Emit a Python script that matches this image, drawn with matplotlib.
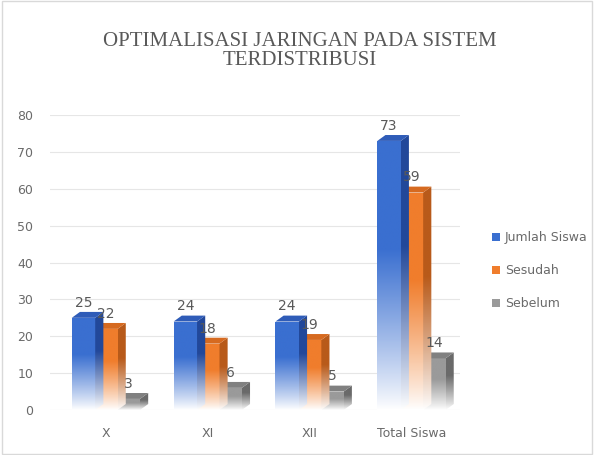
import numpy as np
import matplotlib
matplotlib.use('Agg')
import matplotlib.pyplot as plt
from matplotlib.colors import LinearSegmentedColormap
from matplotlib.patches import Polygon, Patch

categories = ['X', 'XI', 'XII', 'Total Siswa']
series_names = ['Jumlah Siswa', 'Sesudah', 'Sebelum']
jumlah_siswa = [25, 24, 24, 73]
sesudah = [22, 18, 19, 59]
sebelum = [3, 6, 5, 14]
yticks = [0, 10, 20, 30, 40, 50, 60, 70, 80]

front_colors = ['#3a6fd0', '#f07d2c', '#9a9a9a']
side_colors = ['#22489a', '#b85a1a', '#6a6a6a']
top_colors = ['#2f5cb8', '#d66a20', '#808080']


def gradient_fill(ax, patch, color, extent, zorder):
    cmap = LinearSegmentedColormap.from_list('g', ['#ffffff', color])
    t = np.linspace(0, 1, 200)
    vals = np.clip(t / 0.6, 0, 1) ** 0.9
    img = ax.imshow(vals[:, None], extent=extent, origin='lower', aspect='auto',
                    cmap=cmap, vmin=0, vmax=1, zorder=zorder, interpolation='bilinear')
    img.set_clip_path(patch)


def plot_chart():
    fig = plt.figure(figsize=(5.94, 4.55), dpi=100)
    ax = fig.add_axes([0.084, 0.099, 0.691, 0.648])

    data = [jumlah_siswa, sesudah, sebelum]
    x = np.arange(len(categories))
    width = 0.23
    offsets = [-0.22, 0.0, 0.22]
    dx, dy = 0.08, 1.6

    # draw back series first so blue ends up in front
    for i in [2, 1, 0]:
        z = 10 - i * 3
        bars = ax.bar(x + offsets[i], data[i], width, color='none', zorder=z)
        for rect, h in zip(bars, data[i]):
            x0 = rect.get_x()
            x1 = x0 + width
            gradient_fill(ax, rect, front_colors[i], [x0, x1, 0, h], z)
            side = Polygon([(x1, 0), (x1 + dx, dy), (x1 + dx, h + dy), (x1, h)],
                           closed=True, facecolor='none', edgecolor='none', zorder=z)
            ax.add_patch(side)
            gradient_fill(ax, side, side_colors[i], [x1, x1 + dx, 0, h + dy], z)
            top = Polygon([(x0, h), (x0 + dx, h + dy), (x1 + dx, h + dy), (x1, h)],
                          closed=True, facecolor=top_colors[i], edgecolor='none', zorder=z + 0.5)
            ax.add_patch(top)
            ax.text(x0 + width * 0.5, h + dy + 0.6, str(h), ha='center', va='bottom',
                    fontsize=10, color='#595959', zorder=20)

    ax.set_xlim(-0.55, 3.48)
    ax.set_ylim(0, 80)
    ax.set_yticks(yticks)
    ax.set_xticks(x)
    ax.set_xticklabels(categories)
    ax.tick_params(axis='both', length=0, labelsize=9, labelcolor='#6a6a6a')
    ax.tick_params(axis='x', pad=12)
    ax.tick_params(axis='y', pad=12)
    ax.yaxis.grid(True, color='#e6e6e6', linewidth=0.8, zorder=0)
    ax.set_axisbelow(True)
    for s in ax.spines.values():
        s.set_visible(False)

    handles = [Patch(facecolor=front_colors[i], label=series_names[i]) for i in range(3)]
    fig.legend(handles=handles, loc='center left', bbox_to_anchor=(0.81, 0.405),
               frameon=False, fontsize=9, labelcolor='#6a6a6a', handlelength=0.6,
               handleheight=0.6, labelspacing=1.6, handletextpad=0.4)

    fig.text(0.505, 0.888, 'OPTIMALISASI JARINGAN PADA SISTEM\nTERDISTRIBUSI',
             ha='center', va='center', fontsize=15, color='#595959',
             family='Liberation Serif', linespacing=1.05)

    border = plt.Rectangle((0.003, 0.003), 0.994, 0.994, transform=fig.transFigure,
                           fill=False, edgecolor='#d9d9d9', linewidth=1)
    fig.patches.append(border)

    fig.savefig('out.png', dpi=100)
    plt.close(fig)


if __name__ == "__main__":
    plot_chart()
